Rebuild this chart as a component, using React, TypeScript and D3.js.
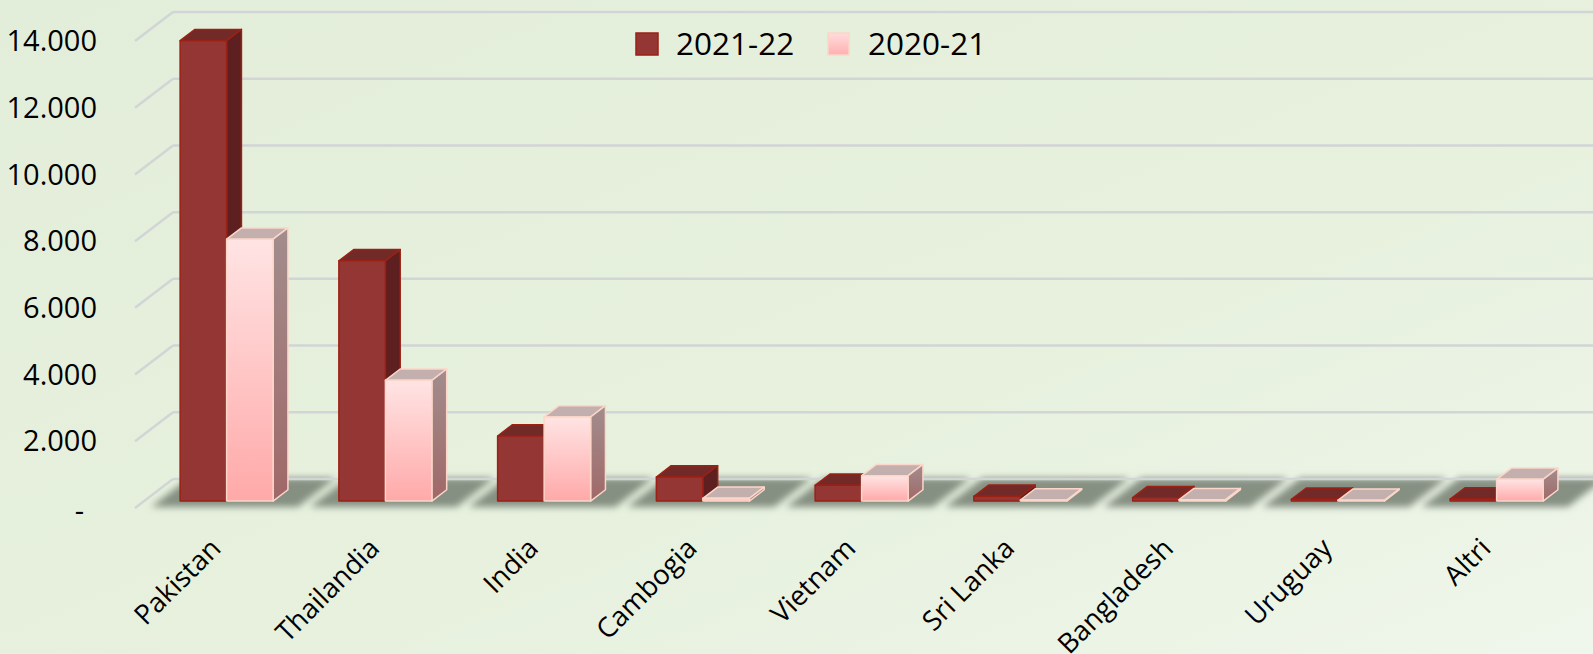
import React from "react";
import * as d3 from "d3";

const categories = ["Pakistan", "Thailandia", "India", "Cambogia", "Vietnam", "Sri Lanka", "Bangladesh", "Uruguay", "Altri"];
const seriesNames = ["2021-22", "2020-21"];
const values2122 = [13800, 7200, 1950, 720, 470, 140, 100, 50, 60];
const values2021 = [7850, 3620, 2520, 80, 760, 30, 40, 20, 650];
const yTicks = [0, 2000, 4000, 6000, 8000, 10000, 12000, 14000];

const W = 1593;
const H = 654;
// floor / wall geometry (oblique 3D)
const floorLeft = 135;
const floorFrontY = 508;
const DX = 38;
const DY = -29;
const fFront = 0.24; // bar front face depth fraction
const fBack = 0.63;
const barW = 46.5;
const FONT = "'Open Sans', 'Noto Sans', sans-serif";

const it = d3.formatLocale({ decimal: ",", thousands: ".", grouping: [3], currency: ["€", ""] });
const fmt = (v: number) => (v === 0 ? "-" : it.format(",d")(v));

export default function App() {
  const x = d3.scaleBand<string>().domain(categories).range([floorLeft, floorLeft + 9 * 158.75]);
  const bw = x.bandwidth();
  const h = d3.scaleLinear().domain([0, 14000]).range([0, 467]);
  const xs = d3.scaleBand<string>().domain(seriesNames).range([0, barW * 2]);

  const bdx = (fBack - fFront) * DX;
  const bdy = (fBack - fFront) * DY;
  const baseY = floorFrontY + fFront * DY;

  const bars: any[] = [];
  categories.forEach((c, i) => {
    [values2122[i], values2021[i]].forEach((v, s) => {
      const xl = (x(c) as number) + 36 + fFront * DX + (xs(seriesNames[s]) as number);
      bars.push({ c, s, v, xl, yt: baseY - h(v) });
    });
  });

  return (
    <svg width={W} height={H} style={{ position: "fixed", left: 0, top: 0 }} fontFamily={FONT}>
      <defs>
        <linearGradient id="bg" x1="0" y1="0" x2="1" y2="1">
          <stop offset="0" stopColor="#e3eeda" />
          <stop offset="0.6" stopColor="#e7f1de" />
          <stop offset="1" stopColor="#eff6eb" />
        </linearGradient>
        <linearGradient id="pinkFront" x1="0" y1="0" x2="0" y2="1">
          <stop offset="0" stopColor="#ffe4e4" />
          <stop offset="1" stopColor="#ffa9a9" />
        </linearGradient>
        <linearGradient id="pinkSide" x1="0" y1="0" x2="0" y2="1">
          <stop offset="0" stopColor="#a38d8d" />
          <stop offset="1" stopColor="#a06868" />
        </linearGradient>
        <linearGradient id="pinkLegend" x1="0" y1="0" x2="0" y2="1">
          <stop offset="0" stopColor="#ffdcdc" />
          <stop offset="1" stopColor="#ffb0b0" />
        </linearGradient>
        <filter id="blur" x="-20%" y="-50%" width="140%" height="200%">
          <feGaussianBlur stdDeviation="3.5" />
        </filter>
      </defs>
      <rect width={W} height={H} fill="url(#bg)" />

      {/* floor shadows */}
      <g filter="url(#blur)">
        {categories.map((c) => {
          const a = (x(c) as number) + 16;
          const b = (x(c) as number) + bw + 4;
          const yf = floorFrontY - 1;
          return (
            <polygon
              key={c}
              points={`${a},${yf} ${b},${yf} ${b + DX},${yf + DY} ${a + DX},${yf + DY}`}
              fill="#7a8578"
              opacity={0.9}
            />
          );
        })}
      </g>

      {/* gridlines: side wall + back wall */}
      {yTicks.map((t) => {
        const yf = floorFrontY - h(t);
        return (
          <g key={t} stroke="#d2d5d6" strokeWidth={2.5} fill="none">
            <line x1={floorLeft} y1={yf} x2={floorLeft + DX} y2={yf + DY} />
            <line x1={floorLeft + DX} y1={yf + DY} x2={W} y2={yf + DY} />
          </g>
        );
      })}

      {/* y labels */}
      {yTicks.map((t) => (
        <text
          key={t}
          x={t === 0 ? 84 : 97}
          y={floorFrontY - h(t) + (t === 0 ? 3 : 0)}
          dy="0.35em"
          textAnchor="end"
          fontSize={29}
          fill="#000"
        >
          {fmt(t)}
        </text>
      ))}

      {/* bars */}
      {bars.map((d, i) => {
        const { xl, yt, s } = d;
        const xr = xl + barW;
        const dark = s === 0;
        const stroke = dark ? "#9b2114" : "#fcd6c8";
        return (
          <g key={i} stroke={stroke} strokeWidth={1.5} strokeLinejoin="round">
            <polygon
              points={`${xl},${yt} ${xl + bdx},${yt + bdy} ${xr + bdx},${yt + bdy} ${xr},${yt}`}
              fill={dark ? "#722a29" : "#c4afaf"}
            />
            <polygon
              points={`${xr},${yt} ${xr + bdx},${yt + bdy} ${xr + bdx},${baseY + bdy} ${xr},${baseY}`}
              fill={dark ? "#5e1f20" : "url(#pinkSide)"}
            />
            <rect x={xl} y={yt} width={barW} height={baseY - yt} fill={dark ? "#943634" : "url(#pinkFront)"} />
          </g>
        );
      })}

      {/* x labels */}
      {categories.map((c) => {
        const ax = (x(c) as number) + bw / 2 + 8;
        const ay = 550;
        return (
          <text key={c} transform={`translate(${ax},${ay}) rotate(-45)`} textAnchor="end" fontSize={27.5} fill="#000">
            {c}
          </text>
        );
      })}

      {/* legend */}
      <g fontSize={31.5}>
        <rect x={636} y={33} width={22} height={22} fill="#943634" stroke="#9b2114" strokeWidth={1.5} />
        <text x={676} y={55}>2021-22</text>
        <rect x={828} y={33} width={21} height={22} fill="url(#pinkLegend)" stroke="#fcd6c8" strokeWidth={1.5} />
        <text x={868} y={55}>2020-21</text>
      </g>
    </svg>
  );
}
